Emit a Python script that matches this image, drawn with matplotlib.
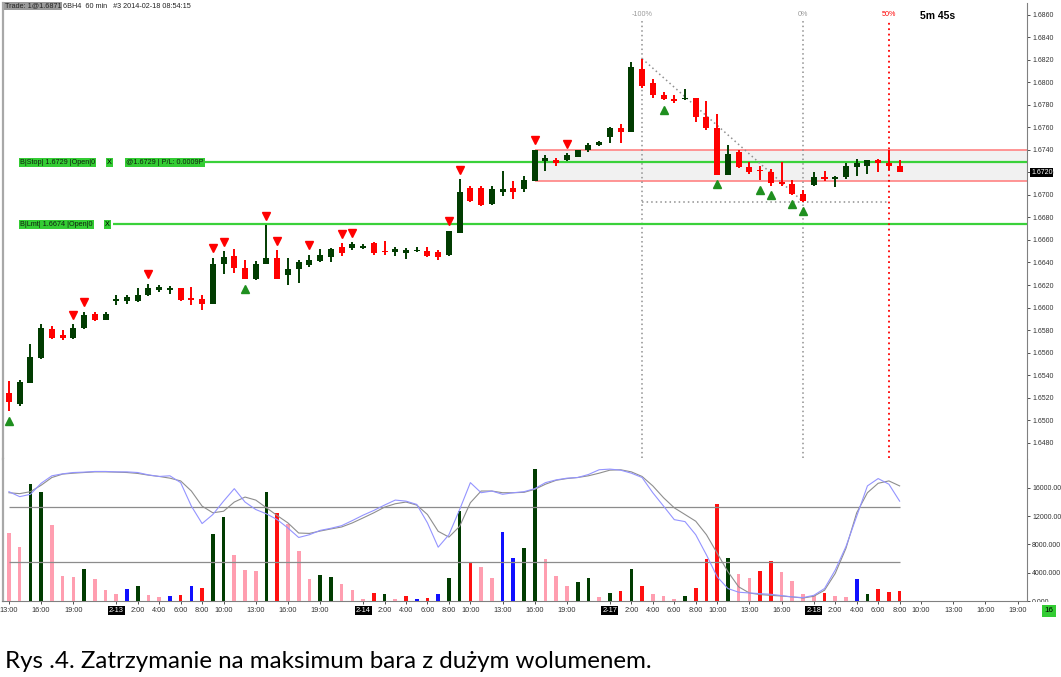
import numpy as np
import matplotlib
matplotlib.use("Agg")
import matplotlib.pyplot as plt
from matplotlib.patches import Rectangle
from matplotlib.transforms import blended_transform_factory

# 6BH4 60 min bars, 2014-02-12 13:00 .. 2014-02-18 08:00
opens = [1.6524, 1.6514, 1.6533, 1.6555, 1.6581, 1.6576, 1.6573, 1.6582, 1.6594, 1.6589,
         1.6606, 1.6606, 1.6606, 1.6611, 1.6616, 1.6616, 1.6617, 1.6608, 1.6608, 1.6603,
         1.6639, 1.6646, 1.6635, 1.6625, 1.6639, 1.6644, 1.6629, 1.6634, 1.6638, 1.6641,
         1.6645, 1.6654, 1.6653, 1.6653, 1.6657, 1.6650, 1.6649, 1.6648, 1.6650, 1.6650,
         1.6649, 1.6647, 1.6666, 1.6706, 1.6706, 1.6692, 1.6703, 1.6706, 1.6705, 1.6712,
         1.6730, 1.6731, 1.6731, 1.6734, 1.6740, 1.6744, 1.6751, 1.6759, 1.6756, 1.6812,
         1.6799, 1.6789, 1.6785, 1.6785, 1.6786, 1.6769, 1.6759, 1.6718, 1.6738, 1.6725,
         1.6722, 1.6720, 1.6711, 1.6710, 1.6701, 1.6709, 1.6716, 1.6714, 1.6716, 1.6725,
         1.6726, 1.6731, 1.6728, 1.6726]
highs = [1.6535, 1.6536, 1.6568, 1.6585, 1.6584, 1.6580, 1.6585, 1.6596, 1.6596, 1.6596,
         1.6611, 1.6611, 1.6617, 1.6621, 1.6620, 1.6619, 1.6617, 1.6618, 1.6611, 1.6644,
         1.6650, 1.6652, 1.6642, 1.6641, 1.6673, 1.6651, 1.6644, 1.6642, 1.6647, 1.6652,
         1.6653, 1.6657, 1.6658, 1.6656, 1.6658, 1.6659, 1.6654, 1.6653, 1.6654, 1.6654,
         1.6651, 1.6668, 1.6714, 1.6708, 1.6708, 1.6708, 1.6721, 1.6712, 1.6717, 1.6740,
         1.6735, 1.6733, 1.6737, 1.6740, 1.6746, 1.6748, 1.6760, 1.6763, 1.6818, 1.6821,
         1.6803, 1.6791, 1.6789, 1.6794, 1.6786, 1.6783, 1.6772, 1.6744, 1.6740, 1.6729,
         1.6726, 1.6723, 1.6729, 1.6713, 1.6704, 1.6720, 1.6721, 1.6717, 1.6728, 1.6732,
         1.6731, 1.6732, 1.6740, 1.6731]
lows = [1.6508, 1.6513, 1.6533, 1.6554, 1.6572, 1.6571, 1.6572, 1.6581, 1.6588, 1.6589,
        1.6602, 1.6603, 1.6605, 1.6610, 1.6614, 1.6612, 1.6606, 1.6602, 1.6598, 1.6603,
        1.6630, 1.6631, 1.6625, 1.6624, 1.6639, 1.6625, 1.6620, 1.6622, 1.6636, 1.6640,
        1.6640, 1.6646, 1.6651, 1.6652, 1.6647, 1.6647, 1.6646, 1.6643, 1.6649, 1.6645,
        1.6642, 1.6646, 1.6666, 1.6694, 1.6690, 1.6691, 1.6699, 1.6696, 1.6703, 1.6712,
        1.6721, 1.6726, 1.6730, 1.6734, 1.6738, 1.6743, 1.6746, 1.6746, 1.6756, 1.6795,
        1.6786, 1.6784, 1.6782, 1.6784, 1.6765, 1.6758, 1.6718, 1.6718, 1.6724, 1.6719,
        1.6713, 1.6708, 1.6708, 1.6700, 1.6694, 1.6708, 1.6712, 1.6707, 1.6714, 1.6717,
        1.6719, 1.6720, 1.6722, 1.6720]
closes = [1.6516, 1.6534, 1.6556, 1.6582, 1.6573, 1.6573, 1.6582, 1.6593, 1.6589, 1.6594,
          1.6608, 1.6609, 1.6611, 1.6617, 1.6618, 1.6617, 1.6607, 1.6607, 1.6603, 1.6639,
          1.6645, 1.6635, 1.6625, 1.6639, 1.6644, 1.6625, 1.6634, 1.6640, 1.6642, 1.6647,
          1.6652, 1.6648, 1.6656, 1.6655, 1.6648, 1.6649, 1.6652, 1.6651, 1.6651, 1.6646,
          1.6645, 1.6668, 1.6703, 1.6695, 1.6691, 1.6705, 1.6705, 1.6703, 1.6713, 1.6740,
          1.6733, 1.6728, 1.6735, 1.6740, 1.6744, 1.6747, 1.6759, 1.6756, 1.6814, 1.6797,
          1.6789, 1.6785, 1.6783, 1.6786, 1.6769, 1.6759, 1.6718, 1.6736, 1.6725, 1.6720,
          1.6721, 1.6711, 1.6710, 1.6701, 1.6695, 1.6716, 1.6714, 1.6716, 1.6726, 1.6728,
          1.6731, 1.6728, 1.6726, 1.6720]

volume = [9570, 7710, 16570, 15380, 10810, 3520, 3430, 4520, 3090, 1570,
          950, 1670, 2090, 860, 570, 710, 900, 2140, 1900, 9480,
          11860, 6480, 4330, 4290, 15480, 12520, 10950, 7050, 3140, 3670,
          3330, 2380, 1520, 330, 1100, 950, 240, 710, 330, 480,
          950, 3240, 12710, 5520, 4760, 3190, 9760, 6140, 7570, 18710,
          5950, 3520, 2090, 2620, 3190, 570, 1100, 1430, 4520, 2140,
          950, 710, 330, 710, 1900, 5950, 13710, 6050, 3810, 3240,
          4290, 5620, 4050, 2860, 950, 810, 1100, 710, 570, 3090,
          950, 1670, 1330, 1480]
# p = pink, r = red, g = dark green, b = blue
vol_kind = "ppggpppgppp" + "bgppbrbrggpppgrpppggpppr" + "gprbrbggrppbbggpppggpgrgr" + "pppgrrrgpprrppppr" + "ppbgrrr"

stoch_k = [82.8, 79.0, 80.8, 89.2, 94.9, 96.4, 97.4, 97.7, 98.2, 98.2,
           97.9, 97.9, 97.4, 95.6, 94.4, 94.9, 89.7, 71.8, 58.5, 65.4,
           75.6, 85.1, 74.9, 69.2, 65.9, 61.5, 55.1, 47.9, 50.0, 53.3,
           54.9, 56.9, 60.8, 64.9, 68.5, 72.6, 76.4, 75.6, 73.1, 59.0,
           40.5, 50.0, 69.2, 89.7, 82.0, 83.3, 80.8, 82.0, 82.8, 85.1,
           89.7, 91.8, 93.1, 93.6, 95.9, 99.5, 100.0, 99.2, 96.9, 93.6,
           82.0, 71.8, 61.5, 60.0, 50.0, 34.6, 17.9, 9.0, 6.2, 5.6,
           5.1, 4.6, 3.6, 2.6, 2.1, 3.8, 9.0, 23.1, 41.0, 64.1,
           87.2, 92.8, 88.5, 75.6]
stoch_d = [82.0, 81.3, 82.8, 87.7, 93.6, 96.2, 96.9, 97.4, 97.9, 97.9,
           97.7, 97.4, 96.7, 95.4, 94.4, 93.1, 91.0, 83.3, 71.8, 66.7,
           67.9, 74.9, 78.7, 76.4, 70.5, 64.6, 59.0, 51.3, 51.0, 52.8,
           54.4, 55.9, 59.0, 62.8, 66.7, 71.0, 73.6, 74.9, 72.6, 65.4,
           52.6, 48.2, 56.4, 74.4, 83.3, 83.3, 82.0, 82.0, 82.3, 84.6,
           88.5, 91.5, 92.8, 93.6, 94.9, 96.9, 99.2, 99.5, 97.9, 94.4,
           87.2, 78.2, 70.5, 65.4, 60.3, 50.0, 35.9, 21.8, 10.3, 5.6,
           4.4, 3.8, 3.3, 2.6, 1.8, 3.1, 7.7, 20.5, 39.7, 66.7,
           82.0, 89.2, 91.0, 87.2]
stoch_levels = [71, 29]

sell_marks = [6, 7, 13, 19, 20, 24, 25, 28, 31, 32, 41, 42, 49, 52]
buy_marks = [0, 22, 61, 66, 70, 71, 73, 74]

stop_price = 1.6729
lmt_price = 1.6674
zone_bar = 49
fib_bars = [59, 74, 82]
fib_labels = ["-100%", "0%", "50%"]

tick_pos = [0, 3, 6, 10, 12, 14, 16, 18, 20, 23, 26, 29, 33, 35, 37, 39, 41, 43, 46, 49,
            52, 56, 58, 60, 62, 64, 66, 69, 72, 75, 77, 79, 81, 83, 85, 88, 91, 94]
tick_lab = ["13:00", "16:00", "19:00", "2-13", "2:00", "4:00", "6:00", "8:00", "10:00",
            "13:00", "16:00", "19:00", "2-14", "2:00", "4:00", "6:00", "8:00", "10:00",
            "13:00", "16:00", "19:00", "2-17", "2:00", "4:00", "6:00", "8:00", "10:00",
            "13:00", "16:00", "2-18", "2:00", "4:00", "6:00", "8:00", "10:00", "13:00",
            "16:00", "19:00"]

GREEN = "#013c01"
RED = "#ff0000"
vol_colors = {"p": "#ff9eb0", "r": "#ff1010", "g": "#013c01", "b": "#1010ff"}

plt.rcParams['font.family'] = ['Liberation Sans', 'DejaVu Sans']
W, H = 1061, 677
XL = (-0.6, 94.87)
AXFS = 5.0


def box(x0, y0, x1, y1):
    return [x0 / W, 1 - y1 / H, (x1 - x0) / W, (y1 - y0) / H]


fig = plt.figure(figsize=(W / 100, H / 100), dpi=100)
ax = fig.add_axes(box(2.5, 3, 1027, 459))
axv = fig.add_axes(box(2.5, 459, 1027, 601), sharex=ax)

x = np.arange(len(opens))
o = np.array(opens)
c = np.array(closes)
up = c >= o
col = np.where(up, GREEN, RED)

# candles
ax.vlines(x, lows, highs, colors=col, lw=1.4, zorder=4)
body = np.maximum(np.abs(c - o), 0.00012)
ax.bar(x, body, bottom=np.minimum(o, c) - (body - np.abs(c - o)) / 2, width=0.56,
       color=col, zorder=5)

off = 0.00085
ax.plot(sell_marks, [highs[i] + off for i in sell_marks], 'v', color=RED, ms=5.5, zorder=6)
ax.plot(buy_marks, [lows[i] - off for i in buy_marks], '^', color="#1f8f1f", ms=5.5, zorder=6)

ax.set_xlim(*XL)
ax.set_ylim(1.64655, 1.68704)

# zone around the high volume bar
z_lo, z_hi = lows[zone_bar], highs[zone_bar]
ax.add_patch(Rectangle((zone_bar, z_lo), XL[1] - zone_bar, z_hi - z_lo,
                       facecolor="#f1f1f1", edgecolor="none", zorder=1))
ax.hlines([z_lo, z_hi], zone_bar, XL[1], colors="#ff8c8c", lw=1.3, zorder=2)

# order lines
ax.hlines(stop_price, 17.7, XL[1], colors="#3ad13a", lw=1.6, zorder=3)
ax.hlines(lmt_price, 9.7, XL[1], colors="#3ad13a", lw=1.6, zorder=3)
tr = blended_transform_factory(fig.transFigure, ax.transData)
gbox = dict(facecolor="#33cc33", edgecolor="none", pad=0.8)
ax.text(20 / W, stop_price, "B|Stop| 1.6729 |Open|0", transform=tr, fontsize=5.2,
        va='center', bbox=gbox, color="#102010")
ax.text(107 / W, stop_price, "X", transform=tr, fontsize=5.2, va='center', bbox=gbox)
ax.text(126 / W, stop_price, "@1.6729 | P/L: 0.0009P", transform=tr, fontsize=5.2,
        va='center', bbox=gbox, color="#102010")
ax.text(20 / W, lmt_price, "B|Lmt| 1.6674 |Open|0", transform=tr, fontsize=5.2,
        va='center', bbox=gbox, color="#102010")
ax.text(105 / W, lmt_price, "X", transform=tr, fontsize=5.2, va='center', bbox=gbox)

# fib time lines
f0, f1, f2 = fib_bars
ax.vlines([f0, f1], 1.6466, 1.6855, colors="#909090", lw=1.1, linestyles=(0, (1, 2)), zorder=2)
ax.vlines(f2, 1.6466, 1.6855, colors=RED, lw=1.3, linestyles=(0, (1, 2)), zorder=7)
ax.plot([f0, f1], [highs[f0], lows[f1]], color="#909090", lw=1.1, ls=(0, (1, 2)), zorder=3)
ax.hlines(lows[f1], f0, f2, colors="#909090", lw=1.1, linestyles=(0, (1, 2)), zorder=3)
trx = blended_transform_factory(ax.transData, ax.transAxes)
for b, lab in zip(fib_bars, fib_labels):
    ax.text(b, 0.974, lab, transform=trx, ha='center', va='center', fontsize=5.2,
            color=RED if lab == "50%" else "#9a9a9a")
fig.text(938 / W, 1 - 16 / H, "5m 45s", ha='center', va='center', fontsize=7.5,
         fontweight='bold')

# price axis
ax.yaxis.tick_right()
ax.set_yticks(np.arange(1.6480, 1.6861, 0.002))
ax.yaxis.set_major_formatter(plt.FormatStrFormatter('%.4f'))
ax.tick_params(axis='y', labelsize=AXFS, length=2.5, width=0.6, pad=1.2, colors="#333333")
ax.tick_params(axis='x', bottom=False, labelbottom=False)
for s in ['top', 'bottom']:
    ax.spines[s].set_visible(False)
ax.spines['left'].set_color("#a8a8a8")
ax.spines['left'].set_linewidth(1.6)
ax.spines['right'].set_color("#808080")
ax.text(1.004, closes[-1], "%.4f" % closes[-1],
        transform=blended_transform_factory(ax.transAxes, ax.transData),
        fontsize=AXFS, color='white', va='center', ha='left',
        bbox=dict(facecolor='black', edgecolor='none', pad=0.6))

# volume panel
axv.bar(x, volume, width=0.34, color=[vol_colors[k] for k in vol_kind], zorder=3)
axv.set_ylim(0, 20100)

axs = axv.twinx()
axs.set_ylim(-0.5, 107.7)
axs.set_yticks([])
for s in axs.spines.values():
    s.set_visible(False)
axs.hlines(stoch_levels, 0, len(opens) - 1, colors="#8c8c8c", lw=0.9)
axs.plot(x, stoch_d, color="#8e8e8e", lw=0.8)
axs.plot(x, stoch_k, color="#9494ff", lw=0.8)

axv.yaxis.tick_right()
axv.set_yticks([0, 4000, 8000, 12000, 16000])
axv.set_yticklabels(["0.000", "4000.000", "8000.000", "12000.00", "16000.00"])
axv.tick_params(axis='y', labelsize=AXFS, length=2.5, width=0.6, pad=1.2, colors="#333333")
axv.spines['top'].set_visible(False)
axv.spines['left'].set_color("#a8a8a8")
axv.spines['left'].set_linewidth(1.6)
axv.spines['right'].set_color("#808080")
axv.spines['bottom'].set_color("#808080")

axv.set_xticks(tick_pos)
axv.set_xticklabels(tick_lab)
axv.tick_params(axis='x', labelsize=5.3, length=2, width=0.6, pad=2.5, colors="#333333")
for t in axv.get_xticklabels():
    if "-" in t.get_text():
        t.set_color('white')
        t.set_bbox(dict(facecolor='black', edgecolor='none', pad=0.8))

# the lowest volume label is half hidden under the time scale
fig.add_artist(Rectangle((1029 / W, 1 - 608 / H), 32 / W, 6 / H, transform=fig.transFigure,
                         facecolor='white', edgecolor='none', zorder=10))
fig.text(1049 / W, 1 - 611 / H, "16", ha='center', va='center', fontsize=5.8, zorder=11,
         bbox=dict(facecolor="#33cc33", edgecolor='none', pad=1.5))

# header
fig.text(5 / W, 1 - 6 / H, "Trade: 1@1.6871", fontsize=5.2, va='center', color="#222222",
         bbox=dict(facecolor="#9a9a9a", edgecolor='none', pad=0.6))
fig.text(63 / W, 1 - 6 / H, "6BH4  60 min   #3 2014-02-18 08:54:15", fontsize=5.2,
         va='center', color="#222222")

fig.text(5 / W, 1 - 661 / H, "Rys .4. Zatrzymanie na maksimum bara z dużym wolumenem.",
         fontsize=17.4, family=['Lato', 'DejaVu Sans'], va='center')

fig.savefig("out.png", dpi=100)
